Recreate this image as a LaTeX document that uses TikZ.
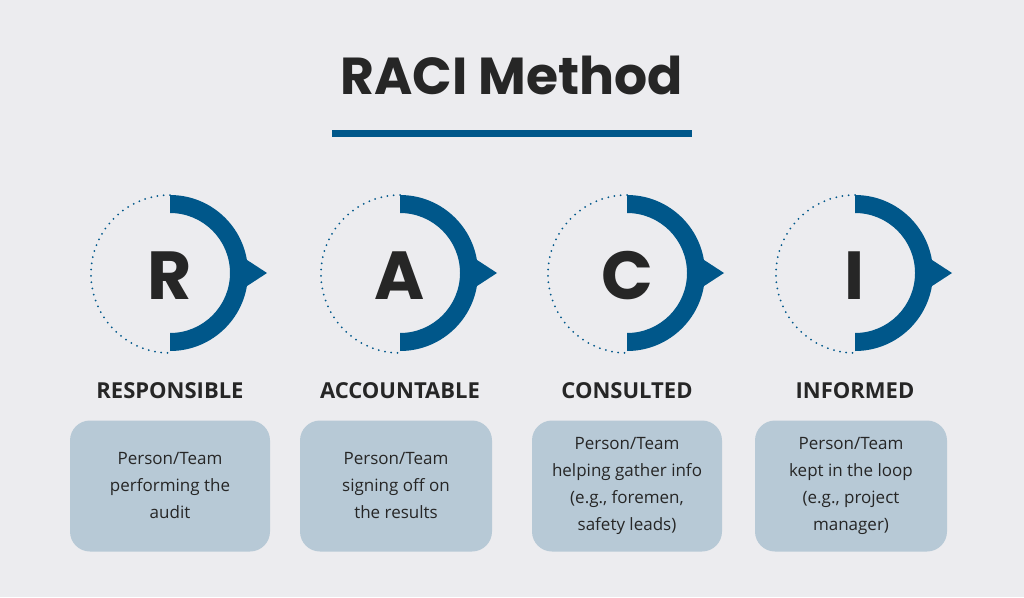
\documentclass[tikz,border=0pt]{standalone}
\usepackage{fontspec}
\setmainfont{Open Sans}
\newfontfamily\headfont{Poppins}
\definecolor{bg}{HTML}{ECECEF}
\definecolor{blu}{HTML}{00578A}
\definecolor{boxc}{HTML}{B7C9D6}
\definecolor{txt}{HTML}{262626}
\begin{document}
\begin{tikzpicture}[x=1pt,y=-1pt,
  lbl/.style={font=\bfseries\fontsize{22}{26}\selectfont,text=txt},
  desc/.style={fill=boxc,rounded corners=20pt,text=txt,align=center,font=\fontsize{17}{27}\selectfont,inner sep=0pt},
  letter/.style={font=\headfont\bfseries\fontsize{68}{70}\selectfont,text=txt},
  dots/.style={blu,line width=2pt,line cap=round,dash pattern=on 0pt off 6.3pt}]
\fill[bg] (0,0) rectangle (1024,597);
\useasboundingbox (0,0) rectangle (1024,597);
\node[font=\headfont\bfseries\fontsize{52}{56}\selectfont,text=txt] (title) at (512,75) {RACI Method};
\fill[blu] (332,130) rectangle (692,137);
\foreach \cx/\L/\name/\lab/\bx/\bw/\dsc in {
  170/R/r/RESPONSIBLE/170/200/{Person/Team\\performing the\\audit},
  400/A/a/ACCOUNTABLE/396/192/{Person/Team\\signing off on\\the results},
  627/C/c/CONSULTED/627/190/{Person/Team\\helping gather info\\(e.g., foremen,\\safety leads)},
  855/I/i/INFORMED/851/192/{Person/Team\\kept in the loop\\(e.g., project\\manager)}}{
  \fill[blu] (\cx,195) arc[start angle=-90,end angle=90,radius=78] -- ++(0,-18) arc[start angle=90,end angle=-90,radius=60] -- cycle;
  \fill[blu] (\cx+74,258) -- (\cx+97,273) -- (\cx+74,288) -- cycle;
  \draw[dots] (\cx,195) arc[start angle=-90,end angle=-270,radius=79];
  \node[letter] (\name) at (\cx,276) {\L};
  \node[lbl] (\name lab) at (\cx,391) {\lab};
  \node[desc,minimum width=\bw pt,minimum height=131pt] (\name box) at (\bx,486) {\dsc};
}
\end{tikzpicture}
\end{document}
